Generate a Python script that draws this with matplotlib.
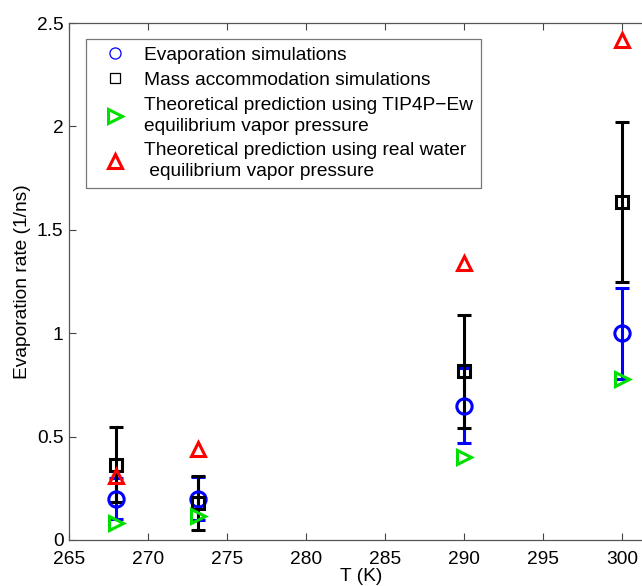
import numpy as np
import matplotlib
matplotlib.use('Agg')
import matplotlib.pyplot as plt
from matplotlib.lines import Line2D

plt.rcParams['font.family'] = ['Liberation Sans', 'DejaVu Sans']

# temperatures (K)
T = [268, 273.15, 290, 300]

# evaporation simulations (blue circles) and error
evap = [0.20, 0.20, 0.65, 1.00]
evap_err = [0.10, 0.105, 0.18, 0.22]

# mass accommodation simulations (black squares) and error
mass = [0.365, 0.178, 0.815, 1.635]
mass_err = [0.18, 0.13, 0.272, 0.385]

# theoretical predictions
tip4p = [0.08, 0.115, 0.40, 0.78]
real_water = [0.31, 0.44, 1.34, 2.42]

fs = 13.8

fig = plt.figure(figsize=(6.42, 5.86), dpi=100)
ax = fig.add_axes([69/642, 46/586, 585/642, 517/586])

ax.errorbar(T, evap, yerr=evap_err, fmt='none', ecolor='blue', elinewidth=2.2,
            capsize=5, capthick=2.2, zorder=2)
ax.errorbar(T, mass, yerr=mass_err, fmt='none', ecolor='black', elinewidth=2.2,
            capsize=5, capthick=2.2, zorder=3)
ax.plot(T, evap, 'o', ms=11, mfc='none', mec='blue', mew=2.2, zorder=4)
ax.plot(T, mass, 's', ms=8, mfc='none', mec='black', mew=2.2, zorder=5)
ax.plot(T, tip4p, '>', ms=10, mfc='none', mec='#00e000', mew=2.2, zorder=6)
ax.plot(T, real_water, '^', ms=10, mfc='none', mec='red', mew=2.2, zorder=6)

ax.set_xlim(265, 302)
ax.set_ylim(0, 2.5)
ax.set_xticks([265, 270, 275, 280, 285, 290, 295, 300])
ax.set_yticks([0, 0.5, 1, 1.5, 2, 2.5])
ax.set_yticklabels(['0', '0.5', '1', '1.5', '2', '2.5'])
ax.tick_params(direction='in', top=True, right=True, length=5, width=0.8,
               labelsize=fs, color='#444444')
ax.tick_params(axis='x', pad=8)
ax.tick_params(axis='y', pad=4)
for s in ax.spines.values():
    s.set_color('#555555')
    s.set_linewidth(0.9)

ax.set_xlabel('T (K)', fontsize=fs, labelpad=0)
ax.set_ylabel('Evaporation rate (1/ns)', fontsize=fs, labelpad=4)

handles = [
    Line2D([], [], ls='none', marker='o', ms=8, mfc='none', mec='blue', mew=0.9),
    Line2D([], [], ls='none', marker='s', ms=7, mfc='none', mec='black', mew=0.9),
    Line2D([], [], ls='none', marker='>', ms=10, mfc='none', mec='#00e000', mew=2.2),
    Line2D([], [], ls='none', marker='^', ms=10, mfc='none', mec='red', mew=2.2),
]
labels = ['Evaporation simulations',
          'Mass accommodation simulations',
          'Theoretical prediction using TIP4P\u2212Ew\nequilibrium vapor pressure',
          'Theoretical prediction using real water\n equilibrium vapor pressure']
leg = ax.legend(handles, labels, loc='upper left', bbox_to_anchor=(17/585, 1 - 16/517),
                borderaxespad=0, fontsize=fs, fancybox=False, framealpha=1,
                edgecolor='#777777', handletextpad=0.45, labelspacing=0.4,
                borderpad=0.4, handlelength=2.2)
for t in leg.get_texts():
    t.set_linespacing(1.3)
leg.get_frame().set_linewidth(0.9)

fig.savefig('out.png', dpi=100)
